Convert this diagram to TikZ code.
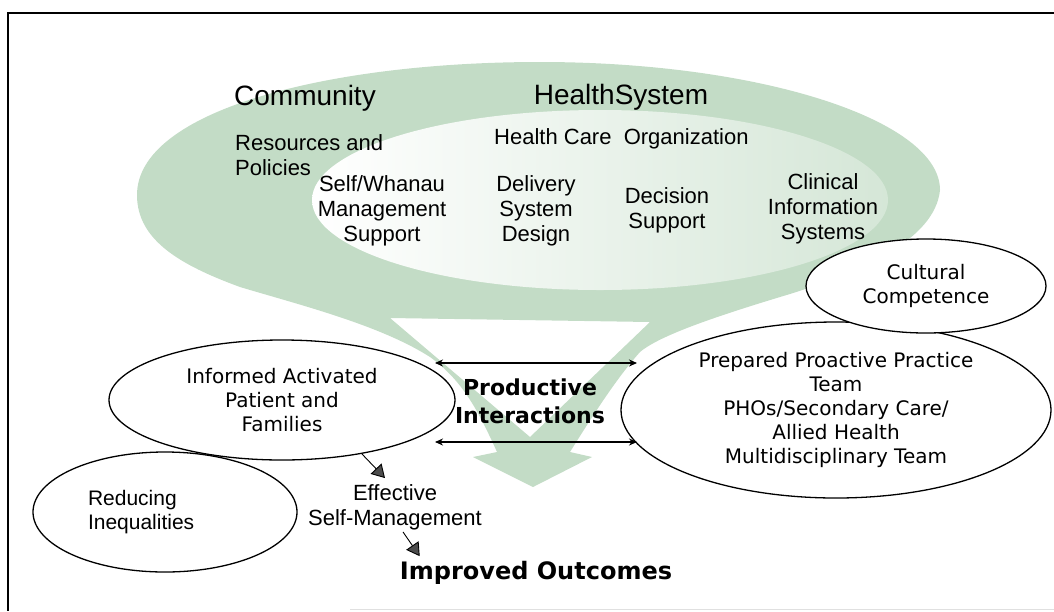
\documentclass[tikz,border=0pt]{standalone}
\usepackage{fontspec}
\setmainfont{Liberation Sans}
\newfontfamily\vfont{DejaVu Sans}
\usetikzlibrary{shapes.geometric,arrows.meta}
\definecolor{ccmgreen}{RGB}{195,220,198}

\begin{document}
\begin{tikzpicture}[x=1pt, y=-1pt,
  head/.style={inner sep=0pt, font=\fontsize{28}{32}\selectfont},
  txt/.style={inner sep=0pt, align=center, font=\fontsize{22}{25}\selectfont},
  bubble/.style={draw, ellipse, fill=white, line width=1.3pt, inner sep=0pt, align=center, font=\vfont\fontsize{20}{24}\selectfont},
  bold/.style={inner sep=0pt, align=center, font=\vfont\bfseries\fontsize{22}{28}\selectfont},
  both/.style={{Stealth[length=8pt,width=7pt]}-{Stealth[length=8pt,width=7pt]}, line width=1.1pt},
  wedge/.style={-{Triangle[length=13pt,width=15pt,fill=black!70]}, line width=0.9pt}]
\useasboundingbox (0,0) rectangle (1054,611);
\draw[line width=1.4pt] (1054,13) -- (8,13) -- (8,611);
\draw[black!12] (350,609) -- (1054,609);

%% green ring running into the funnel arrow
\fill[ccmgreen, even odd rule]
  (137,195) .. controls (137,110) and (330,62) .. (540,62)
  .. controls (760,62) and (940,120) .. (940,190)
  .. controls (935,240) and (860,272) .. (790,294)
  .. controls (720,315) and (660,335) .. (640,352)
  .. controls (615,380) and (590,420) .. (570,452)
  -- (592,457) -- (533,487) -- (473,457) -- (497,452)
  .. controls (478,410) and (462,380) .. (430,357)
  .. controls (380,325) and (300,305) .. (240,287)
  .. controls (180,265) and (137,240) .. (137,195) -- cycle
  (390,318) -- (650,322) -- (530,437) -- cycle;
\shade[left color=white, middle color=white, right color=ccmgreen!70]
  (600,200) ellipse [x radius=288pt, y radius=90pt];

%% system level
\node[head] (community) at (305,98) {Community};
\node[head] (healthsys) at (621,97) {HealthSystem};
\node[txt, align=left, anchor=west] (resources) at (235,155) {Resources and\\Policies};
\node[txt, anchor=west] (hco) at (494,139) {Health Care\ \ Organization};
\node[txt] (selfmgmt) at (382,211) {Self/Whanau\\Management\\Support};
\node[txt] (delivery) at (536,211) {Delivery\\System\\Design};
\node[txt] (decision) at (667,210) {Decision\\Support};
\node[txt] (clinical) at (823,209) {Clinical\\Information\\Systems};

%% practice level
\node[bubble, minimum width=430pt, minimum height=176pt] (prepared) at (836,410)
  {Prepared Proactive Practice\\Team\\PHOs/Secondary Care/\\Allied Health\\Multidisciplinary Team};
\node[bubble, minimum width=240pt, minimum height=94pt] (cultural) at (926,286) {Cultural\\Competence};
\node[bubble, font=\fontsize{21}{24}\selectfont, text width=154pt, align=left,
  minimum width=264pt, minimum height=120pt] (reducing) at (165,512) {Reducing\\Inequalities};
\node[bubble, minimum width=346pt, minimum height=120pt] (informed) at (282,400)
  {Informed Activated\\Patient and\\Families};

\node[bold] (productive) at (530,401) {Productive\\Interactions};
\coordinate (lefttop) at (435,363);
\coordinate (righttop) at (637,363);
\coordinate (leftbot) at (435,442);
\coordinate (rightbot) at (637,442);
\draw[both] (lefttop) -- (righttop);
\draw[both] (leftbot) -- (rightbot);

\node[txt] (effective) at (395,507) {Effective\\Self-Management};
\node[bold, font=\vfont\bfseries\fontsize{24}{28}\selectfont] (improved) at (536,573) {Improved Outcomes};
\draw[wedge] (informed.-34) -- ([xshift=-10pt,yshift=6pt]effective.north);
\draw[wedge] ([xshift=8pt,yshift=-2pt]effective.south) -- ([xshift=20pt,yshift=5pt]improved.north west);
\end{tikzpicture}
\end{document}
